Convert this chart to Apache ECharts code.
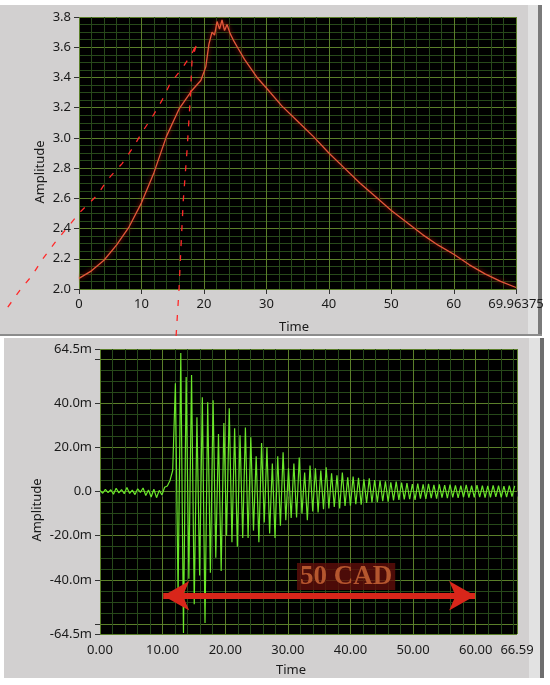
<!DOCTYPE html>
<html>
<head>
<meta charset="utf-8">
<script src="https://cdn.jsdelivr.net/npm/echarts@6/dist/echarts.min.js"></script>
<style>
  html, body { margin: 0; padding: 0; background: #fff; }
  #chart { width: 550px; height: 685px; }
</style>
</head>
<body>
<div id="chart"></div>
<script>
// top graph: slow trace (time, amplitude)
const topTime = [0, 2, 4, 6, 8, 10, 12, 14, 16, 18, 19.5, 20.3, 20.8, 21.3, 21.7, 22.1, 22.5, 22.9, 23.3, 23.7,
  24.2, 24.8, 25.5, 26.5, 27.5, 28.5, 30, 32.5, 35, 37.5, 40, 42.5, 45, 47.5, 50, 52.5, 55, 57.5, 60, 62.5, 65, 67.5, 69.96375]
const topAmp = [2.07, 2.12, 2.19, 2.29, 2.41, 2.57, 2.77, 3.01, 3.19, 3.31, 3.38, 3.47, 3.62, 3.70, 3.68, 3.77, 3.72, 3.78, 3.71, 3.75,
  3.69, 3.64, 3.59, 3.52, 3.46, 3.40, 3.33, 3.21, 3.11, 3.01, 2.90, 2.80, 2.70, 2.61, 2.52, 2.44, 2.36, 2.29, 2.23, 2.16, 2.10, 2.05, 2.01]

// dotted red ghost trace over the top graph (runs past the plot edges)
const ghostTime = [-11.4, -9.5, -7.5, -5.8, -3.8, 0.2, 2.9, 4.5, 6.9, 8.7, 10.3, 11.9, 13.3, 14.6, 16.5, 18.1, 18.9,
  18.1, 17.8, 17.3, 16.7, 16.3, 16.0, 15.5]
const ghostAmp = [1.88, 1.99, 2.09, 2.20, 2.31, 2.51, 2.62, 2.72, 2.83, 2.94, 3.05, 3.15, 3.25, 3.36, 3.46, 3.56, 3.63,
  3.52, 3.25, 2.92, 2.59, 2.26, 1.99, 1.66]

// bottom graph: vibration signal, one sample every sigStep (values in milli-units)
const sigStep = 0.43
const sigAmp = [
  0.5, -0.8, 1.0, -0.5, 0.8, -1.2, 1.5, -0.6, 0.9, -1.0, 1.8, -0.9, 0.6, -1.4, 1.2, -0.4, 1.6, -1.8, 0.7, -2.5,
  1.0, -2.8, 0.5, -1.6, 1.9, 2.5, 5.0, 9.5,
  49, -47, 62.7, -64, 51.8, -39.5, 52.7, -51, 33.6, -38, 42.7, -59.5, 40.4, -36.8, 41.3, -30, 26, -36, 31, -20, 37.7, -23,
  28.6, -25, 25.4, -21, 29, -21, 24.5, -17.7, 16, -23, 22, -14, 20, -19, 12.7, -21, 16, -15.5, 17.7, -13,
  10.5, -12, 12.7, -11.8, 15.4, -10, 8.6, -13, 11.8, -9, 10.5, -9.5, 9.5, -8, 11, -7.7, 8.2, -7, 7.3, -7.7,
  8.6, -6.5, 6.4, -6.4,
  6.8, -5.8, 6.2, -6.0, 5.5, -5.2, 6.0, -5.0, 5.2, -4.8, 5.0, -4.4, 4.6, -4.6, 4.2, -4.0, 4.5, -3.8, 4.0, -3.6,
  3.8, -3.5, 3.4, -3.8, 3.6, -3.2, 3.2, -3.4, 3.5, -3.0, 3.0, -3.2, 3.2, -2.8, 2.9, -3.0, 3.1, -2.7, 2.8, -2.9,
  2.7, -2.6, 3.0, -2.8, 2.6, -2.7, 2.9, -2.5, 2.7, -2.8, 2.5, -2.6, 2.8, -2.4, 2.6, -2.7, 2.4, -2.5, 2.7, -2.3, 2.5
]

// annotation: 50 CAD span
const cadSpan = [10.1, 59.9]
const cadLevel = -47.2
const cadText = '50 CAD'
const cadTextAt = [39.3, -38.5]

const MAJOR = '#5b7f2a'
const MINOR = '#27491a'
const PANEL = '#d2d0d0'
const FONT = 'Noto Sans'

const chart = echarts.init(document.getElementById('chart'))

const axisCommon = {
  type: 'value',
  axisLine: { show: false },
  axisTick: { show: true, length: 5, lineStyle: { color: '#333' } },
  axisLabel: { color: '#1a1a1a', fontSize: 13, fontFamily: FONT, showMinLabel: true, showMaxLabel: true },
  splitLine: { show: true, lineStyle: { color: MAJOR, width: 1 } },
  minorSplitLine: { show: true, lineStyle: { color: MINOR, width: 1 } }
}

const zip = (xs, ys) => xs.map((x, i) => [x, ys[i]])

const nameText = (text, x, y, vertical) => ({
  type: 'text', x, y, rotation: vertical ? Math.PI / 2 : 0,
  style: { text, fontSize: 13, fontFamily: FONT, fill: '#1a1a1a',
    align: 'center', verticalAlign: 'middle', textAlign: 'center', textVerticalAlign: 'middle' }
})

const option = {
  animation: false,
  backgroundColor: '#fff',
  graphic: [
    // LabVIEW-ish panel frames
    { type: 'rect', z: -10, shape: { x: 0, y: 5, width: 540, height: 331 }, style: { fill: PANEL } },
    { type: 'rect', z: -9, shape: { x: 528, y: 5, width: 10, height: 331 }, style: { fill: '#e2e2e2' } },
    { type: 'rect', z: -9, shape: { x: 538, y: 5, width: 4, height: 331 }, style: { fill: '#7a7a7a' } },
    { type: 'rect', z: -9, shape: { x: 0, y: 334, width: 542, height: 2 }, style: { fill: '#8c8c8c' } },
    { type: 'rect', z: -10, shape: { x: 4, y: 338, width: 538, height: 340 }, style: { fill: PANEL } },
    { type: 'rect', z: -9, shape: { x: 529, y: 338, width: 11, height: 340 }, style: { fill: '#e2e2e2' } },
    { type: 'rect', z: -9, shape: { x: 540, y: 338, width: 4, height: 340 }, style: { fill: '#6e6e6e' } },
    nameText('Amplitude', 40, 172, true),
    nameText('Time', 294, 327, false),
    nameText('Amplitude', 37, 510, true),
    nameText('Time', 291, 670, false)
  ],
  grid: [
    { left: 79, top: 17, width: 437, height: 272, show: true, backgroundColor: '#000', borderWidth: 0 },
    { left: 100, top: 349, width: 417, height: 285, show: true, backgroundColor: '#000', borderWidth: 0 },
    // hidden overlay grid: same scale as the top graph, stretched to the panel's left edge
    { left: 0, top: 17, width: 516, height: 272, show: false }
  ],
  xAxis: [
    {
      ...axisCommon, gridIndex: 0, min: 0, max: 69.96375, interval: 10,
      minorTick: { show: false, splitNumber: 5 },
      axisLabel: { ...axisCommon.axisLabel, margin: 9, formatter: v => String(v) }
    },
    {
      ...axisCommon, gridIndex: 1, min: 0, max: 66.59, interval: 10,
      minorTick: { show: false, splitNumber: 5 },
      axisLabel: { ...axisCommon.axisLabel, margin: 10, formatter: v => v.toFixed(2) }
    },
    { type: 'value', gridIndex: 2, min: -12.65, max: 69.96375, show: false }
  ],
  yAxis: [
    {
      ...axisCommon, gridIndex: 0, min: 2.0, max: 3.8, interval: 0.2,
      minorTick: { show: false, splitNumber: 4 },
      axisLabel: { ...axisCommon.axisLabel, margin: 8, formatter: v => v.toFixed(1) }
    },
    {
      ...axisCommon, gridIndex: 1, min: -64.5, max: 64.5, splitNumber: 6,
      minorTick: { show: false, splitNumber: 4 },
      axisLabel: {
        ...axisCommon.axisLabel, margin: 8,
        formatter: v => Math.abs(Math.abs(v) - 60) < 1e-6 ? '' : (v === 0 ? '0.0' : v.toFixed(1) + 'm')
      }
    },
    { type: 'value', gridIndex: 2, min: 2.0, max: 3.8, show: false }
  ],
  series: [
    {
      type: 'line', xAxisIndex: 0, yAxisIndex: 0,
      data: zip(topTime, topAmp),
      showSymbol: false, silent: true,
      lineStyle: { color: '#e2583a', width: 1.3, shadowColor: 'rgba(200,20,10,0.9)', shadowBlur: 4 }
    },
    {
      type: 'line', xAxisIndex: 2, yAxisIndex: 2,
      data: zip(ghostTime, ghostAmp),
      showSymbol: false, silent: true, clip: false, z: 5,
      lineStyle: { color: '#ff2a2a', width: 1.3, type: [6, 9] }
    },
    {
      type: 'line', xAxisIndex: 1, yAxisIndex: 1,
      data: sigAmp.map((v, i) => [i * sigStep, v]),
      showSymbol: false, silent: true,
      lineStyle: { color: '#6ae62a', width: 1.2 },
      markLine: {
        silent: true,
        symbol: ['arrow', 'arrow'],
        symbolSize: [22, 26],
        label: { show: false },
        lineStyle: { color: '#d8261a', width: 6, type: 'solid' },
        data: [[{ coord: [cadSpan[0], cadLevel] }, { coord: [cadSpan[1], cadLevel] }]]
      },
      markPoint: {
        silent: true,
        symbol: 'rect', symbolSize: 0,
        data: [{ coord: cadTextAt }],
        label: {
          show: true, position: 'inside', formatter: cadText,
          fontFamily: 'Liberation Serif', fontWeight: 'bold', fontSize: 27,
          color: '#b5562e', backgroundColor: 'rgba(95,14,10,0.8)', padding: [0, 3]
        }
      }
    }
  ]
}

chart.setOption(option)
</script>
</body>
</html>
